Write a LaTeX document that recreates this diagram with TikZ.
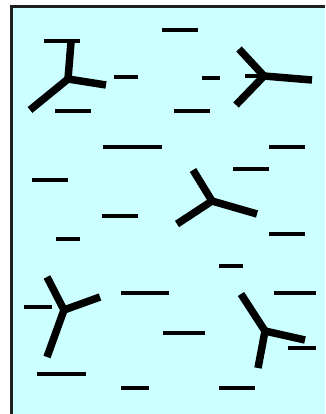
\documentclass[tikz,border=0pt]{standalone}
\definecolor{bgcyan}{HTML}{CCFFFF}
\definecolor{framecol}{HTML}{1E1E1E}
\begin{document}
\begin{tikzpicture}[x=1pt,y=-1pt,
  dashline/.style={line width=3.2pt,line cap=butt},
  thickdash/.style={line width=4pt,line cap=butt},
  arm/.style={line width=7.5pt,line cap=butt}]
\useasboundingbox (0,0) rectangle (325,414);
\fill[white] (0,0) rectangle (325,414);
\fill[bgcyan] (11.5,6.5) rectangle (325,414);
\draw[framecol,line width=3pt] (11.5,414) -- (11.5,6.5) -- (325,6.5);
% dashes
\draw[dashline] (44,41) -- (80,41);
\draw[dashline] (162,30) -- (198,30);
\draw[dashline] (114,77) -- (138,77);
\draw[dashline] (202,78) -- (220,78);
\draw[dashline] (245,76) -- (262,76);
\draw[dashline] (55,111) -- (91,111);
\draw[dashline] (174,111) -- (210,111);
\draw[thickdash] (103,147) -- (162,147);
\draw[dashline] (269,147) -- (305,147);
\draw[dashline] (32,180) -- (68,180);
\draw[dashline] (233,169) -- (269,169);
\draw[dashline] (102,216) -- (138,216);
\draw[dashline] (269,234) -- (305,234);
\draw[dashline] (56,239) -- (80,239);
\draw[dashline] (219,266) -- (243,266);
\draw[dashline] (24,307) -- (52,307);
\draw[dashline] (121,293) -- (169,293);
\draw[dashline] (274,293) -- (316,293);
\draw[dashline] (163,333) -- (205,333);
\draw[dashline] (288,348) -- (316,348);
\draw[dashline] (37,374) -- (86,374);
\draw[dashline] (121,388) -- (149,388);
\draw[dashline] (219,388) -- (255,388);
% Y molecules
\foreach \cx/\cy/\ax/\ay/\bx/\by/\dx/\dy in {
  68/79/71/42/106/85/30/110,
  264/76/239/49/312/80/236/105,
  212/201/193/170/257/214/177/224,
  64/310/47/277/100/297/47/357,
  265/331/241/294/305/340/258/368}{
  \draw[arm] (\cx,\cy) -- (\ax,\ay);
  \draw[arm] (\cx,\cy) -- (\bx,\by);
  \draw[arm] (\cx,\cy) -- (\dx,\dy);
  \fill (\cx,\cy) circle (3.75pt);
}
\end{tikzpicture}
\end{document}
